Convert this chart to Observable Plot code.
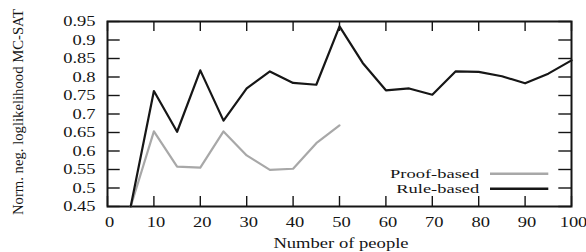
<!DOCTYPE html>
<html><head><meta charset="utf-8">
<script src="https://cdn.jsdelivr.net/npm/d3@7"></script>
<script src="https://cdn.jsdelivr.net/npm/@observablehq/plot@0.6"></script>
<style>html,body{margin:0;padding:0;background:#fff;} svg{display:block}</style>
</head><body><div id="chart"></div>
<script>
// ---- data ----
const people = [5, 10, 15, 20, 25, 30, 35, 40, 45, 50, 55, 60, 65, 70, 75, 80, 85, 90, 95, 100];
const ruleBased = [0.45, 0.762, 0.652, 0.818, 0.682, 0.769, 0.815, 0.784, 0.779, 0.937, 0.838, 0.764, 0.769, 0.752, 0.815, 0.814, 0.802, 0.783, 0.809, 0.845];
const proofPeople = [5, 10, 15, 20, 25, 30, 35, 40, 45, 50];
const proofBased = [0.45, 0.653, 0.558, 0.555, 0.653, 0.588, 0.549, 0.552, 0.621, 0.669];
const xTicks = [0, 10, 20, 30, 40, 50, 60, 70, 80, 90, 100];
const yTicks = [0.45, 0.5, 0.55, 0.6, 0.65, 0.7, 0.75, 0.8, 0.85, 0.9, 0.95];
const seriesNames = ["Proof-based", "Rule-based"];
const seriesColors = ["#a8a8a8", "#161616"];
const xLabel = "Number of people";
const yLabel = "Norm. neg. loglikelihood MC-SAT";

// ---- layout ----
const W = 586, H = 252, mL = 107, mR = 15, mT = 21, mB = 46;
const frameW = W - mL - mR, frameH = H - mT - mB;
const xTickLen = 10, yTickLen = 12.7;
const textStretch = 1.25;
const serif = "'Liberation Serif', 'Times New Roman', serif";

const ruleData = people.map((x, i) => ({x, y: ruleBased[i]}));
const proofData = proofPeople.map((x, i) => ({x, y: proofBased[i]}));
const fmt = d => String(+d.toFixed(2));
const ink = "#151515";

const svg = Plot.plot({
  width: W, height: H,
  marginLeft: mL, marginRight: mR, marginTop: mT, marginBottom: mB,
  style: `font-family: ${serif}; font-size: 14.8px; color: ${ink}; background: #fff;`,
  x: {domain: [0, 100], label: null},
  y: {domain: [0.45, 0.95], label: null},
  marks: [
    Plot.ruleX(xTicks, {x: d => d, insetTop: frameH - xTickLen, stroke: ink, strokeWidth: 1.4}),
    Plot.ruleX(xTicks, {x: d => d, insetBottom: frameH - xTickLen, stroke: ink, strokeWidth: 1.4}),
    Plot.ruleY(yTicks, {y: d => d, insetRight: frameW - yTickLen, stroke: ink, strokeWidth: 1.4}),
    Plot.ruleY(yTicks, {y: d => d, insetLeft: frameW - yTickLen, stroke: ink, strokeWidth: 1.4}),
    Plot.frame({stroke: ink, strokeWidth: 2}),
    Plot.line(proofData, {x: "x", y: "y", stroke: seriesColors[0], strokeWidth: 2.2}),
    Plot.line(ruleData, {x: "x", y: "y", stroke: seriesColors[1], strokeWidth: 2.2}),
    Plot.axisX(xTicks, {tickSize: 0, tickPadding: 10, label: null, fontSize: 14.8, dx: 2}),
    Plot.axisY(yTicks, {tickSize: 0, tickPadding: 12, label: null, tickFormat: fmt, fontSize: 14.8}),
    Plot.text([xLabel], {text: d => d, frameAnchor: "bottom", textAnchor: "middle", lineAnchor: "bottom", dy: 41.3, dx: 1.5, fontSize: 15.5}),
    Plot.text([yLabel], {text: d => d, frameAnchor: "left", textAnchor: "middle", lineAnchor: "middle", rotate: -90, dx: -89.5, dy: -2, fontSize: 14.7})
  ]
});

// horizontally widened text, as in the reference
function widen(el, k) {
  const t = el.getAttribute("transform") || "";
  el.setAttribute("transform", t + ` scale(${k},1)`);
}
svg.querySelectorAll("g[aria-label]").forEach(g => {
  const lab = g.getAttribute("aria-label") || "";
  if (/tick label/.test(lab)) g.querySelectorAll("text").forEach(t => widen(t, textStretch));
});
svg.querySelectorAll("text").forEach(t => {
  if (t.textContent === xLabel) widen(t, 1.2);
});

// key (inside the frame, bottom right)
const key = d3.select(svg).append("g").attr("aria-label", "key");
const fr = W - mR, fb = H - mB;
seriesNames.forEach((name, i) => {
  const y = fb - 32.3 + i * 15;
  key.append("line")
    .attr("x1", fr - 81).attr("x2", fr - 22.7).attr("y1", y).attr("y2", y)
    .attr("stroke", seriesColors[i]).attr("stroke-width", 2.4);
  key.append("text")
    .attr("transform", `translate(${fr - 91.7},${y}) scale(1.4,1)`)
    .attr("text-anchor", "end").attr("dy", "0.32em")
    .attr("font-size", 13.2).attr("fill", ink)
    .text(name);
});

document.getElementById("chart").appendChild(svg);
</script>
</body></html>
